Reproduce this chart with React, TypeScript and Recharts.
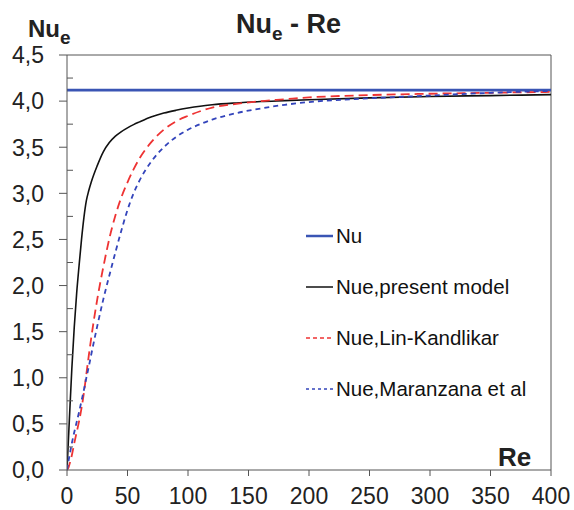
import { LineChart, Line, XAxis, YAxis, ReferenceLine, Legend } from 'recharts';

// Reynolds numbers where the curves were sampled
const re = [0, 1, 2, 4, 6, 8, 10, 12, 14, 16, 18, 20, 25, 30, 35, 40, 45, 50, 55, 60, 70, 80, 90, 100, 110, 120, 140, 160, 180, 200, 250, 300, 350, 400];

const presentModel = [0, 0.28, 0.56, 1.1, 1.55, 1.92, 2.22, 2.5, 2.74, 2.92, 3.03, 3.12, 3.3, 3.45, 3.55, 3.62, 3.67, 3.71, 3.745, 3.775, 3.83, 3.87, 3.9, 3.925, 3.945, 3.96, 3.98, 3.995, 4.005, 4.015, 4.035, 4.05, 4.06, 4.07];
const linKandlikar = [0, 0.02, 0.06, 0.16, 0.29, 0.41, 0.53, 0.67, 0.84, 1.04, 1.24, 1.43, 1.85, 2.2, 2.51, 2.76, 2.96, 3.12, 3.26, 3.38, 3.56, 3.69, 3.78, 3.84, 3.89, 3.93, 3.97, 4.0, 4.02, 4.04, 4.065, 4.08, 4.09, 4.1];
const maranzana = [0, 0.08, 0.15, 0.29, 0.41, 0.52, 0.63, 0.75, 0.87, 1.0, 1.12, 1.25, 1.56, 1.85, 2.11, 2.36, 2.6, 2.82, 3.0, 3.14, 3.35, 3.5, 3.61, 3.69, 3.75, 3.8, 3.87, 3.92, 3.96, 3.99, 4.03, 4.06, 4.09, 4.11];

// fully developed Nusselt number
const nuRe = [0, 400];
const nuVals = [4.12, 4.12];

const xTicks = [0, 50, 100, 150, 200, 250, 300, 350, 400];
const yTicks = [0, 0.25, 0.5, 0.75, 1, 1.25, 1.5, 1.75, 2, 2.25, 2.5, 2.75, 3, 3.25, 3.5, 3.75, 4, 4.25, 4.5];

const data = re.map((r, i) => ({
  re: r,
  present: presentModel[i],
  lin: linKandlikar[i],
  maranzana: maranzana[i],
}));
const nuData = nuRe.map((r, i) => ({ re: r, nu: nuVals[i] }));

const font = '"Liberation Sans", Arial, sans-serif';

const legendOrder = ['nu', 'present', 'lin', 'maranzana'];
const legendStyle: Record<string, { color: string; dash?: string; width: number }> = {
  nu: { color: '#3a55b4', width: 2.5 },
  present: { color: '#111', width: 1.5 },
  lin: { color: '#ee3333', dash: '4 3', width: 1.5 },
  maranzana: { color: '#3344bb', dash: '3 3', width: 1.5 },
};

function YTick(props: any) {
  const { x, y, payload } = props;
  const axisX = x + 8 + 15;
  const v = payload.value;
  const major = Math.abs(v * 2 - Math.round(v * 2)) < 1e-6;
  return (
    <g>
      {major ? (
        <line x1={axisX - 8} x2={axisX} y1={y} y2={y} stroke="#555" />
      ) : (
        <line x1={axisX} x2={axisX + 6} y1={y} y2={y} stroke="#555" />
      )}
      {major && (
        <text x={x} y={y} dy="0.36em" textAnchor="end" fontSize={23} fill="#222" fontFamily={font}>
          {v.toFixed(1).replace('.', ',')}
        </text>
      )}
    </g>
  );
}

function LegendBox(props: any) {
  const items = [...(props.payload || [])].sort(
    (a: any, b: any) => legendOrder.indexOf(a.dataKey) - legendOrder.indexOf(b.dataKey)
  );
  return (
    <div style={{ fontFamily: font, fontSize: 20.5, color: '#111' }}>
      {items.map((p: any) => {
        const s = legendStyle[p.dataKey];
        return (
          <div key={p.dataKey} style={{ display: 'flex', alignItems: 'center', height: 51 }}>
            <svg width={30} height={10}>
              <line x1={0} x2={27} y1={5} y2={5} stroke={s.color} strokeWidth={s.width} strokeDasharray={s.dash} />
            </svg>
            <span>{p.value}</span>
          </div>
        );
      })}
    </div>
  );
}

export default function App() {
  return (
    <div style={{ position: 'absolute', left: 0, top: 0, width: 574, height: 510, background: '#fff' }}>
      <LineChart
        width={574}
        height={510}
        data={data}
        margin={{ top: 55, right: 23, left: 0, bottom: 0 }}
        style={{ fontFamily: font }}
      >
        <XAxis
          dataKey="re"
          type="number"
          domain={[0, 400]}
          ticks={xTicks}
          allowDataOverflow
          height={40}
          tickSize={6}
          tickMargin={12}
          stroke="#555"
          tick={{ fontSize: 23, fill: '#222' }}
        />
        <YAxis
          type="number"
          domain={[0, 4.5]}
          ticks={yTicks}
          interval={0}
          width={67}
          tickSize={8}
          tickMargin={15}
          tickLine={false}
          stroke="#555"
          tick={<YTick />}
        />
        <ReferenceLine y={4.5} stroke="#555" />
        <ReferenceLine x={400} stroke="#555" />
        <Line data={nuData} dataKey="nu" name="Nu" stroke="#3a55b4" strokeWidth={2.8} dot={false} isAnimationActive={false} />
        <Line dataKey="present" name="Nue,present model" type="monotone" stroke="#111" strokeWidth={1.6} dot={false} isAnimationActive={false} />
        <Line dataKey="lin" name="Nue,Lin-Kandlikar" type="monotone" stroke="#ee3333" strokeWidth={1.8} strokeDasharray="9 5" dot={false} isAnimationActive={false} />
        <Line dataKey="maranzana" name="Nue,Maranzana et al" type="monotone" stroke="#3344bb" strokeWidth={1.8} strokeDasharray="5 4" dot={false} isAnimationActive={false} />
        <Legend
          layout="vertical"
          align="center"
          verticalAlign="middle"
          content={<LegendBox />}
          wrapperStyle={{ left: 306, top: 210, width: 260 }}
        />
      </LineChart>
      <svg width={574} height={510} style={{ position: 'absolute', left: 0, top: 0, pointerEvents: 'none' }} fontFamily={font} fontWeight="bold" fill="#222">
        <text x={236} y={33} fontSize={27}>
          Nu<tspan fontSize={19} dy={7}>e</tspan><tspan dy={-7}> - Re</tspan>
        </text>
        <text x={28} y={37} fontSize={24}>
          Nu<tspan fontSize={19} dy={7}>e</tspan>
        </text>
        <text x={498} y={466} fontSize={26}>Re</text>
      </svg>
    </div>
  );
}
